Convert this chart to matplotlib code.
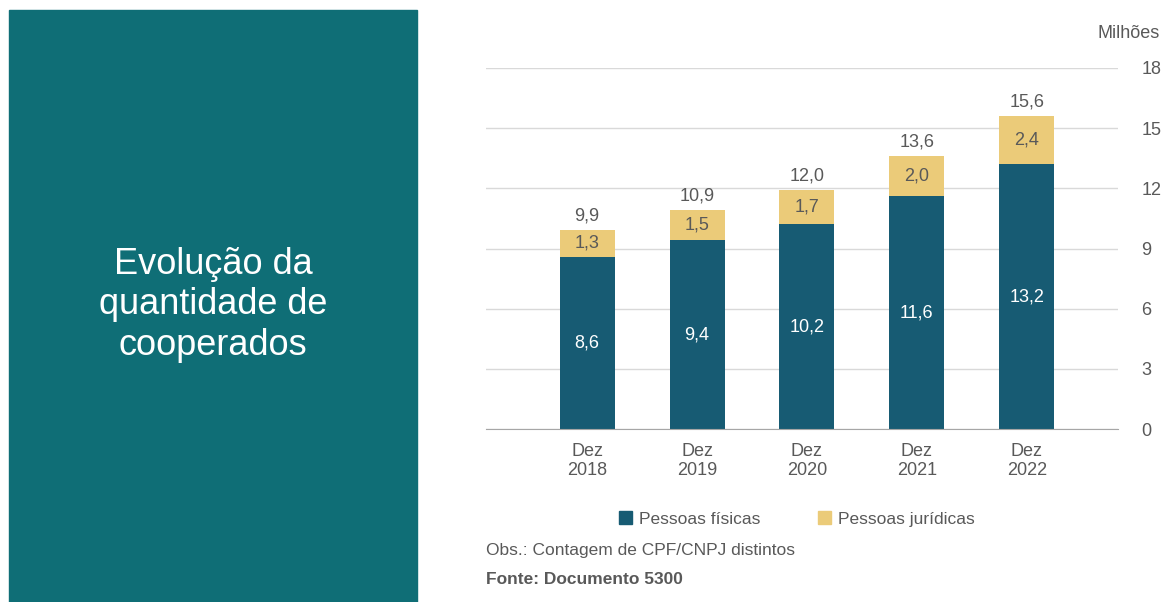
import matplotlib.pyplot as plt
from matplotlib.patches import Rectangle, Patch

plt.rcParams['font.family'] = ['Liberation Sans', 'DejaVu Sans']

categorias = ['Dez\n2018', 'Dez\n2019', 'Dez\n2020', 'Dez\n2021', 'Dez\n2022']
fisicas = [8.6, 9.4, 10.2, 11.6, 13.2]
juridicas = [1.3, 1.5, 1.7, 2.0, 2.4]
totais = [9.9, 10.9, 12.0, 13.6, 15.6]
yticks = [0, 3, 6, 9, 12, 15, 18]

cor_fis = '#175B73'
cor_jur = '#EBCB79'
cinza = '#595959'


def br(v):
    return f'{v:.1f}'.replace('.', ',')


fig = plt.figure(figsize=(11.62, 6.02), dpi=100)

# painel da esquerda
fig.patches.append(Rectangle((9 / 1162, 0), 408 / 1162, 1 - 10 / 602,
                             transform=fig.transFigure, color='#0F6E76', zorder=0))
fig.text(213 / 1162, 1 - 305 / 602, 'Evolução da\nquantidade de\ncooperados',
         ha='center', va='center', color='white', fontsize=26, linespacing=1.2)

ax = fig.add_axes([486 / 1162, 1 - 429 / 602, 632 / 1162, 361 / 602])
x = range(len(categorias))
ax.bar(x, fisicas, width=0.5, color=cor_fis, zorder=3)
ax.bar(x, juridicas, width=0.5, bottom=fisicas, color=cor_jur, zorder=3)

for i in x:
    ax.text(i, fisicas[i] / 2, br(fisicas[i]), ha='center', va='center',
            color='white', fontsize=13, zorder=4)
    ax.text(i, fisicas[i] + juridicas[i] / 2, br(juridicas[i]), ha='center',
            va='center', color=cinza, fontsize=13, zorder=4)
    ax.text(i, fisicas[i] + juridicas[i] + 0.3, br(totais[i]), ha='center',
            va='bottom', color=cinza, fontsize=13, zorder=4)

ax.set_xlim(-0.92, 4.83)
ax.set_ylim(0, 18)
ax.set_yticks(yticks)
ax.yaxis.tick_right()
ax.tick_params(axis='y', length=0, pad=17, labelsize=13, labelcolor=cinza)
ax.set_xticks(list(x))
ax.set_xticklabels(categorias)
ax.tick_params(axis='x', length=0, pad=10, labelsize=13, labelcolor=cinza)
ax.grid(axis='y', color='#D9D9D9', linewidth=1, zorder=0)
for s in ['top', 'right', 'left']:
    ax.spines[s].set_visible(False)
ax.spines['bottom'].set_color('#A6A6A6')
ax.spines['bottom'].set_zorder(5)

fig.text(1160 / 1162, 1 - 33 / 602, 'Milhões', ha='right', va='center',
         color=cinza, fontsize=13)

handles = [Patch(color=cor_fis, label='Pessoas físicas'),
           Patch(color=cor_jur, label='Pessoas jurídicas')]
fig.legend(handles=handles, loc='center', bbox_to_anchor=(797 / 1162, 1 - 519 / 602),
           ncol=2, frameon=False, fontsize=12.5, handlelength=0.75, handleheight=0.75,
           handletextpad=0.4, columnspacing=3.3, labelcolor=cinza)

fig.text(486 / 1162, 1 - 551 / 602, 'Obs.: Contagem de CPF/CNPJ distintos',
         ha='left', va='center', color=cinza, fontsize=12.5)
fig.text(486 / 1162, 1 - 579 / 602, 'Fonte: Documento 5300',
         ha='left', va='center', color=cinza, fontsize=12.5, fontweight='bold')

fig.savefig('out.png', dpi=100)
